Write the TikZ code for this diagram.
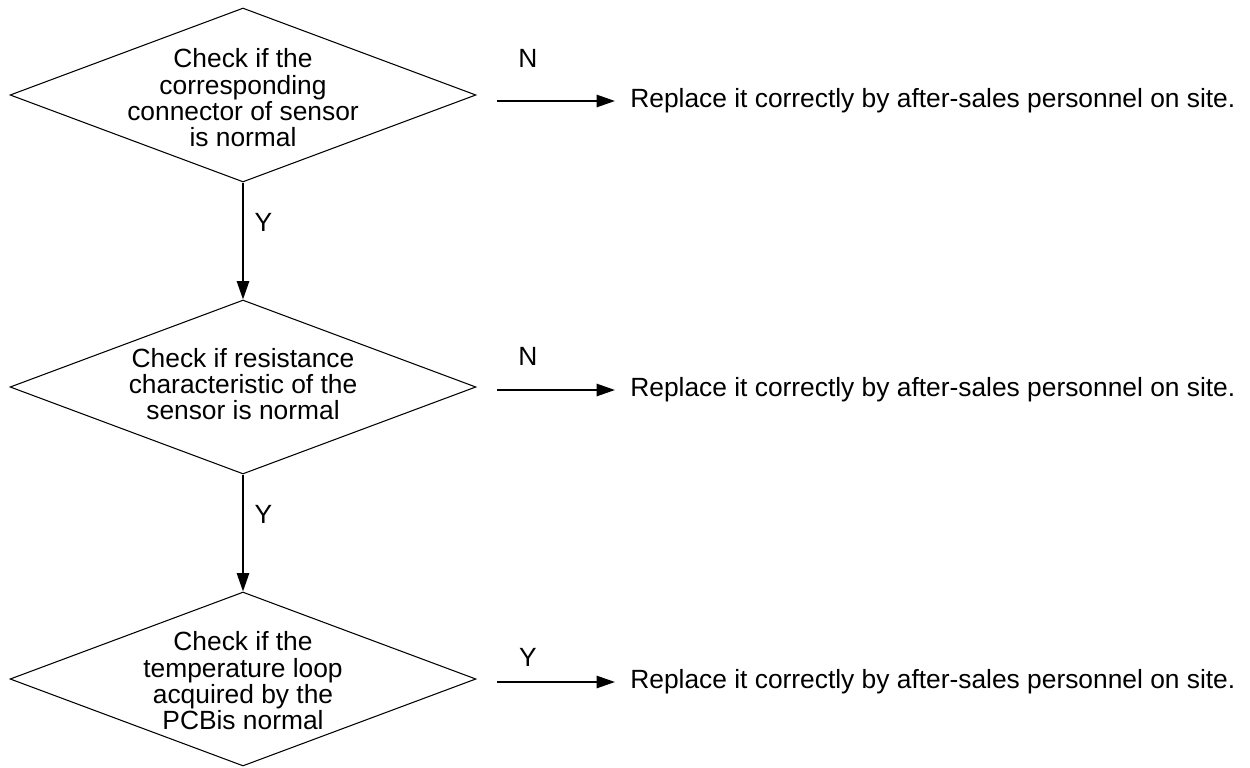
\documentclass[tikz,border=0pt]{standalone}
\usepackage{fontspec}
\setmainfont{Liberation Sans}
\usetikzlibrary{positioning, arrows.meta, shapes.geometric, calc}

\begin{document}
\begin{tikzpicture}[
  x=0.02cm, y=-0.02cm,
  >={Triangle[length=10.5pt, width=7pt]},
  font=\fontsize{15}{15}\selectfont,
  dec/.style={draw, diamond, aspect=2.68, inner sep=0pt,
              minimum width=9.32cm, minimum height=3.48cm, line width=0.6pt},
  qtxt/.style={align=center, inner sep=0pt},
  act/.style={anchor=west, inner sep=0pt},
  lbl/.style={inner sep=0pt},
  flow/.style={->, line width=1.1pt},
]
\useasboundingbox (0,0) rectangle (1250,767);

% --- decisions ---
\node[dec] (q1) at (243,95) {};
\node[qtxt] (t1) at (243,98) {Check if the\\corresponding\\connector of sensor\\is normal};
\node[dec] (q2) at (243,387) {};
\node[qtxt] (t2) at (243,384) {Check if resistance\\characteristic of the\\sensor is normal};
\node[dec] (q3) at (243,679) {};
\node[qtxt] (t3) at (243,681) {Check if the\\temperature loop\\acquired by the\\PCBis normal};

% --- actions ---
\node[act] (r1) at (630,101) {Replace it correctly by after-sales personnel on site.};
\node[act] (r2) at (630,390) {Replace it correctly by after-sales personnel on site.};
\node[act] (r3) at (630,682) {Replace it correctly by after-sales personnel on site.};

\coordinate (s1) at (497,101);
\coordinate (s2) at (497,390);
\coordinate (s3) at (497,682);

\draw[flow, shorten >=0.3cm] (s1) -- (r1.west);
\draw[flow, shorten >=0.3cm] (s2) -- (r2.west);
\draw[flow, shorten >=0.3cm] (s3) -- (r3.west);
\node[lbl] (n1) at (528,58) {N};
\node[lbl] (n2) at (528,356) {N};
\node[lbl] (n3) at (528,657) {Y};

% --- main line ---
\draw[flow] (q1.south) -- node[lbl, pos=0.34, right=6pt] {Y} (q2.north);
\draw[flow] (q2.south) -- node[lbl, pos=0.34, right=6pt] {Y} (q3.north);
\end{tikzpicture}
\end{document}
